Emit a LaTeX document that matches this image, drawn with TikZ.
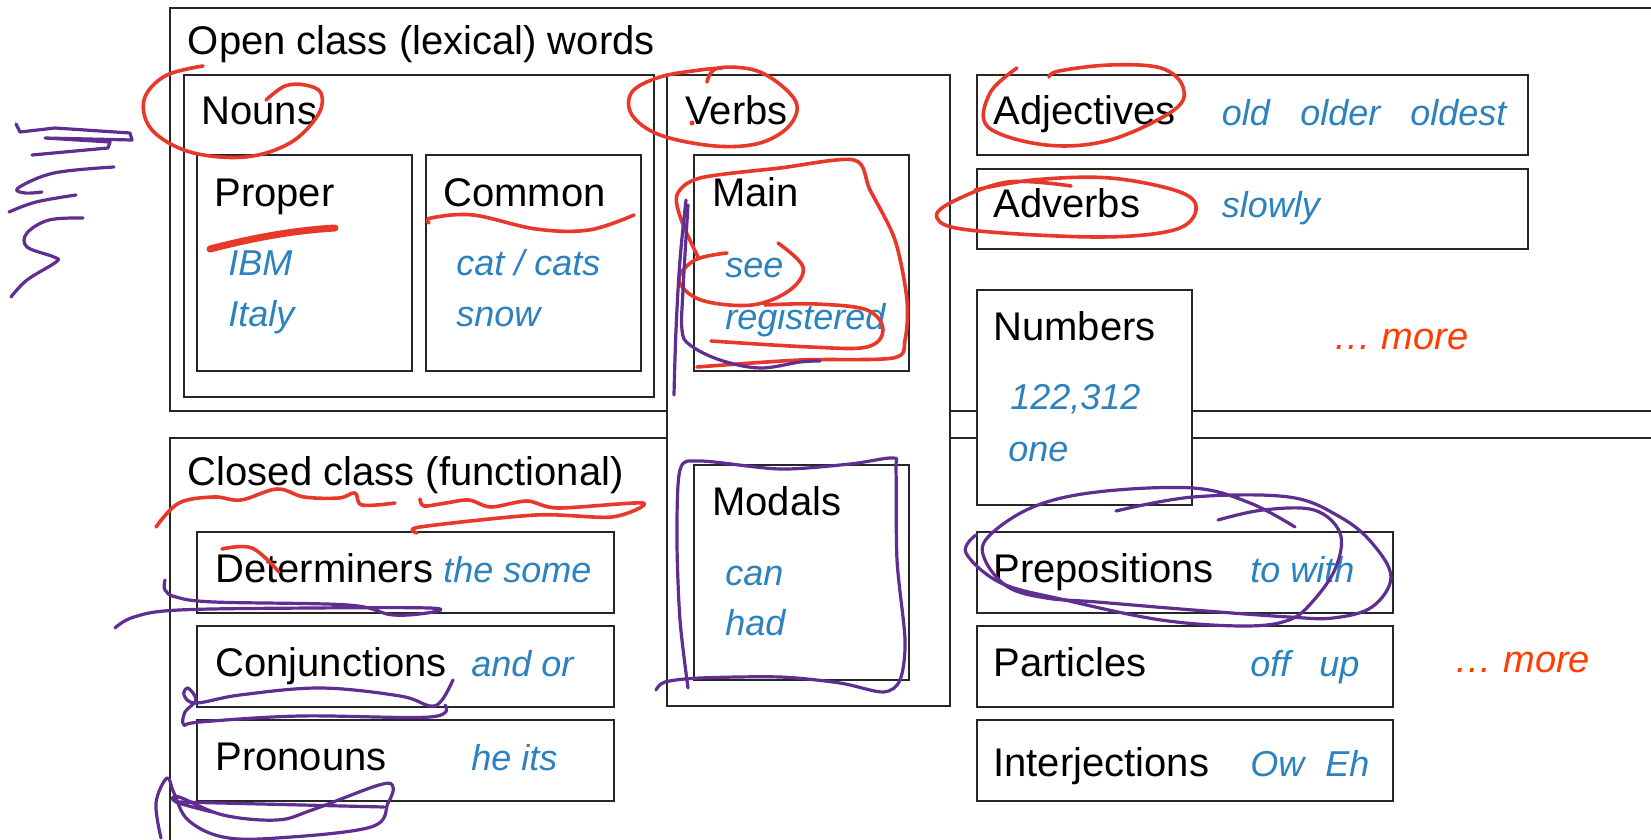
\documentclass[tikz,border=0pt]{standalone}
\usepackage{fontspec}
\setmainfont{Liberation Sans}
\usetikzlibrary{fit}
\definecolor{wordblue}{RGB}{43,130,190}
\definecolor{morered}{RGB}{255,61,0}
\definecolor{penred}{RGB}{232,56,42}
\definecolor{penpurple}{RGB}{96,46,145}
\tikzset{
  box/.style={draw=black!85, line width=1pt, fill=white, inner sep=0pt},
  lbl/.style={inner sep=0pt, anchor=base west, font=\fontsize{20}{24}\selectfont},
  ex/.style={inner sep=0pt, anchor=base west, text=wordblue, font=\fontsize{18}{22}\selectfont\itshape},
  more/.style={inner sep=0pt, anchor=base west, text=morered, font=\fontsize{19}{23}\selectfont\itshape},
  redpen/.style={draw=penred, line width=1.8pt, line cap=round, line join=round},
  purplepen/.style={draw=penpurple, line width=1.6pt, line cap=round, line join=round}
}
\begin{document}
\begin{tikzpicture}[x=0.5pt,y=-0.5pt]
\useasboundingbox (0,0) rectangle (1651,840);
\clip (0,0) rectangle (1651,840);
\fill[white] (0,0) rectangle (1651,840);
% outer boxes
\node[box, fit={(170,8) (1700,411)}] (open) {};
\node[box, fit={(170,438) (1700,900)}] (closed) {};
% nouns
\node[box, fit={(183.5,75) (654,397)}] (nouns) {};
\node[box, fit={(197,155.5) (412,370.5)}] (proper) {};
\node[box, fit={(425.5,155.5) (640.5,370.5)}] (common) {};
% verbs
\node[box, fit={(667,75) (949.5,706)}] (verbs) {};
\node[box, fit={(693.5,155.5) (909,370.5)}] (main) {};
\node[box, fit={(693.5,464.5) (909,679.5)}] (modals) {};
% right column
\node[box, fit={(976.5,75) (1527.5,155.5)}] (adj) {};
\node[box, fit={(976.5,169) (1527.5,249.5)}] (adv) {};
\node[box, fit={(976.5,290) (1191.5,505)}] (num) {};
\node[box, fit={(976.5,532) (1392.5,612.5)}] (prep) {};
\node[box, fit={(976.5,626) (1392.5,706.5)}] (part) {};
\node[box, fit={(976.5,720) (1392.5,800.5)}] (interj) {};
% closed class boxes
\node[box, fit={(197,532) (614,612.5)}] (det) {};
\node[box, fit={(197,626) (614,706.5)}] (conj) {};
\node[box, fit={(197,720) (614,800.5)}] (pron) {};
% labels
\node[lbl] (topen) at (187.5,55) {Open class (lexical) words};
\node[lbl] (tnouns) at (201,125) {Nouns};
\node[lbl] (tproper) at (214,206) {Proper};
\node[lbl] (tcommon) at (443,206) {Common};
\node[ex] (eibm) at (228,276) {IBM};
\node[ex] (eitaly) at (228,326) {Italy};
\node[ex] (ecat) at (456,276) {cat / cats};
\node[ex] (esnow) at (456,326) {snow};
\node[lbl] (tverbs) at (685,125) {Verbs};
\node[lbl] (tmain) at (712,206) {Main};
\node[ex] (esee) at (725,278) {see};
\node[ex] (ereg) at (725,329) {registered};
\node[lbl] (tmodals) at (712,515) {Modals};
\node[ex] (ecan) at (725,585) {can};
\node[ex] (ehad) at (725,635) {had};
\node[lbl] (tadj) at (993,125) {Adjectives};
\node[ex] (eold) at (1221.5,126) {old};
\node[ex] (eolder) at (1300,126) {older};
\node[ex] (eoldest) at (1410,126) {oldest};
\node[lbl] (tadv) at (993,218) {Adverbs};
\node[ex] (eslowly) at (1221.5,218) {slowly};
\node[lbl] (tnum) at (993,340) {Numbers};
\node[ex] (e122) at (1010,409) {122,312};
\node[ex] (eone) at (1008,461) {one};
\node[more] (more1) at (1333,350) {… more};
\node[lbl] (tclosed) at (187.5,485) {Closed class (functional)};
\node[lbl] (tdet) at (215,582) {Determiners};
\node[ex] (ethe) at (443,582) {the some};
\node[lbl] (tconj) at (215,676) {Conjunctions};
\node[ex] (eand) at (471,676) {and or};
\node[lbl] (tpron) at (215,770) {Pronouns};
\node[ex] (ehe) at (471,770) {he its};
\node[lbl] (tprep) at (993,582) {Prepositions};
\node[ex] (eto) at (1250,582) {to with};
\node[lbl] (tpart) at (993,676) {Particles};
\node[ex] (eoff) at (1250,676) {off};
\node[ex] (eup) at (1319,676) {up};
\node[more] (more2) at (1454.5,672) {… more};
\node[lbl] (tinterj) at (993,776) {Interjections};
\node[ex] (eow) at (1250,776) {Ow};
\node[ex] (eeh) at (1325,776) {Eh};
% red pen
\draw[redpen] plot[smooth, tension=0.6] coordinates {(203,66) (165,76) (144,100) (152,130) (190,152) (245,157) (290,143) (318,115) (321,93) (305,85) (285,86) (266,100)};
\draw[redpen] plot[smooth, tension=0.6] coordinates {(707,82) (718,68) (760,72) (795,100) (790,125) (760,143) (715,146) (660,135) (632,115) (632,92) (660,77) (700,70) (722,68)};
\fill[penred] (692,123) circle (2.5);
\draw[redpen] plot[smooth, tension=0.6] coordinates {(1017,68) (990,93) (988,127) (1046,145) (1110,140) (1174,110) (1183,87) (1161,68) (1110,65) (1059,71) (1049,77)};
\draw[redpen] plot[smooth, tension=0.6] coordinates {(1071,186) (1008,182) (952,202) (937,218) (969,230) (1097,237) (1174,230) (1196,210) (1180,192) (1110,178) (1033,180) (975,190)};
\draw[redpen] plot[smooth, tension=0.5] coordinates {(698,257) (682,222) (677,195) (700,178) (780,168) (854,160) (870,190) (895,240) (907,300) (905,340) (893,358) (800,360) (697,367)};
\draw[redpen] plot[smooth, tension=0.6] coordinates {(778,243) (803,267) (790,290) (752,305) (701,300) (679,280) (695,260) (727,253)};
\draw[redpen] plot[smooth, tension=0.6] coordinates {(711,341) (810,347) (867,347) (883,330) (867,310) (816,304) (765,305)};
\draw[redpen, line width=3.5pt] (210,249) .. controls (260,236) and (300,230) .. (335,228);
\draw[redpen] plot[smooth, tension=0.6] coordinates {(429,223) (431,218) (473,215) (536,229) (589,230) (634,215)};
\draw[redpen] plot[smooth, tension=0.6] coordinates {(156,527) (179,503) (214,497) (241,500) (277,489) (304,497) (339,498) (355,493) (362,505) (395,503)};
\draw[redpen] plot[smooth, tension=0.5] coordinates {(420,499) (424,506) (446,503) (469,500) (491,507) (527,501) (558,508) (643,503) (612,517) (536,515) (420,527) (417,533)};
\draw[redpen] plot[smooth, tension=0.6] coordinates {(222,549) (252,548) (279,572)};
% purple pen
\draw[purplepen] (16,124) -- (20,132) -- (55,128) -- (130,133) -- (132,140) -- (45,138) -- (110,142) -- (108,148) -- (32,155);
\draw[purplepen] plot[smooth, tension=0.6] coordinates {(114,167) (54,173) (18,188) (25,193) (42,192)};
\draw[purplepen] plot[smooth, tension=0.6] coordinates {(76,195) (36,202) (9,212)};
\draw[purplepen] plot[smooth, tension=0.6] coordinates {(83,218) (49,220) (27,233) (27,247) (54,257) (56,262) (27,280) (11,297)};
\draw[purplepen] plot[smooth, tension=0.6] coordinates {(686,200) (680,260) (676,330) (674,395)};
\draw[purplepen] plot[smooth, tension=0.6] coordinates {(688,205) (683,290) (682,330) (690,345) (720,360) (760,368) (800,362) (820,361)};
\draw[purplepen] plot[smooth, tension=0.6] coordinates {(165,580) (165,590) (176,597) (214,602) (348,605) (393,615) (433,612) (429,608) (312,608) (179,610) (134,617) (115,628)};
\draw[purplepen] plot[smooth, tension=0.6] coordinates {(453,680) (442,700) (430,706) (400,696) (320,688) (240,695) (196,703) (184,695) (188,688) (196,700) (185,712) (184,725) (200,722) (300,716) (430,717) (445,705)};
\draw[purplepen] plot[smooth, tension=0.6] coordinates {(161,838) (156,803) (167,778) (174,793) (188,820) (223,837) (277,838) (371,827) (388,803) (393,787) (379,785) (312,810) (277,820) (223,815) (179,797) (176,802) (212,812)};
\draw[purplepen] (179,802) -- (384,807);
\draw[purplepen] plot[smooth, tension=0.5] coordinates {(688,688) (680,620) (677,540) (680,470) (700,461) (780,469) (850,464) (893,458) (896,470) (897,560) (905,640) (900,680) (883,692) (840,683) (780,677) (700,678) (665,682) (656,690)};
\draw[purplepen] plot[smooth, tension=0.6] coordinates {(1116,511) (1193,497) (1289,497) (1340,517) (1372,543) (1391,577) (1372,607) (1333,618) (1289,617) (1193,610) (1097,602) (1046,598) (1008,587) (985,560) (988,537) (1033,507) (1097,492) (1193,488) (1250,503) (1295,527)};
\draw[purplepen] plot[smooth, tension=0.6] coordinates {(1218,520) (1263,510) (1314,510) (1340,533) (1336,567) (1314,600) (1289,620) (1244,626) (1161,620) (1065,600) (1001,583) (966,553) (976,535)};
\end{tikzpicture}
\end{document}
